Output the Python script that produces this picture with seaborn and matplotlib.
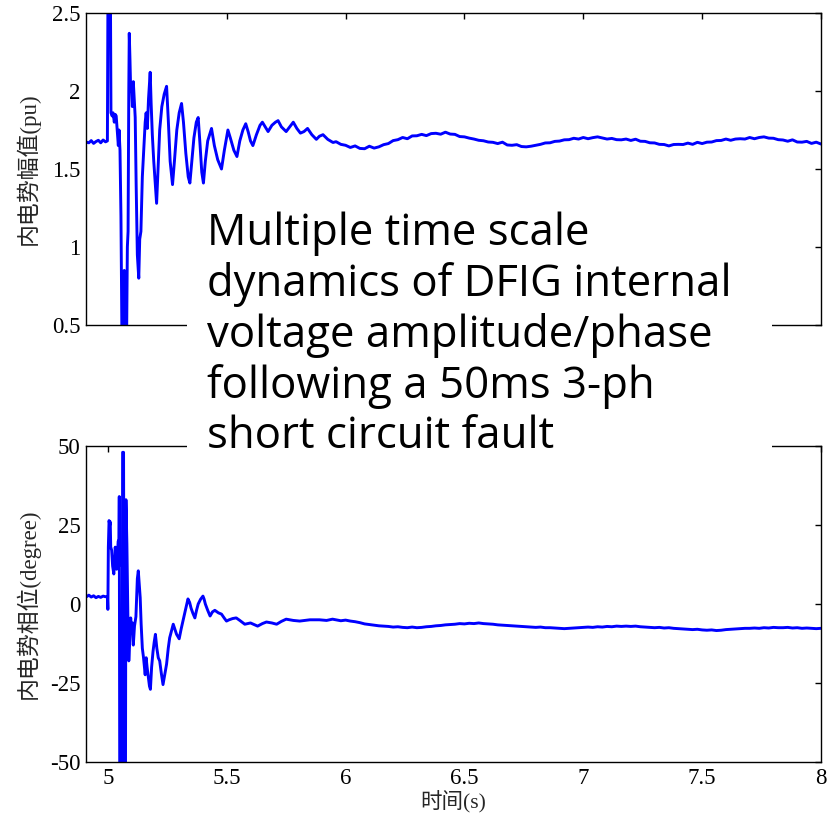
import numpy as np
import pandas as pd
import matplotlib
matplotlib.use("Agg")
import matplotlib.pyplot as plt
import seaborn as sns
from matplotlib.patches import Rectangle

# ---------------- data ----------------
amp_time = [
    4.900, 4.910, 4.920, 4.930, 4.940, 4.950, 4.960, 4.970, 4.980, 4.990, 4.998,
    5.001, 5.010, 5.013, 5.018, 5.022, 5.027, 5.031, 5.035, 5.040, 5.044, 5.047,
    5.051, 5.055, 5.059, 5.066, 5.069, 5.072, 5.075, 5.079, 5.082, 5.085, 5.088,
    5.090, 5.093, 5.096, 5.099, 5.103, 5.107, 5.111, 5.115, 5.119, 5.124, 5.130,
    5.134, 5.139, 5.145, 5.151, 5.157, 5.161, 5.166, 5.171, 5.178, 5.182, 5.187,
    5.193, 5.199, 5.205, 5.211, 5.218, 5.227, 5.237, 5.247, 5.254, 5.262, 5.272,
    5.280, 5.290, 5.300, 5.310, 5.318, 5.328, 5.338, 5.345, 5.353, 5.362, 5.372,
    5.380, 5.388, 5.395, 5.402, 5.410, 5.420, 5.436, 5.448, 5.462, 5.478, 5.490,
    5.505, 5.515, 5.530, 5.543, 5.555, 5.568, 5.580, 5.590, 5.600, 5.610, 5.625,
    5.640, 5.650, 5.662, 5.674, 5.690, 5.705, 5.716, 5.730, 5.750, 5.765, 5.780,
    5.795, 5.810, 5.825, 5.840, 5.858, 5.877, 5.890, 5.905, 5.925, 5.947,
    5.96, 5.98, 6.00, 6.02, 6.04, 6.06, 6.08, 6.10, 6.12, 6.14, 6.16, 6.18, 6.20,
    6.22, 6.24, 6.26, 6.28, 6.30, 6.32, 6.34, 6.36, 6.38, 6.40, 6.42, 6.44, 6.46,
    6.48, 6.50, 6.52, 6.54, 6.56, 6.58, 6.60, 6.62, 6.64, 6.66, 6.68, 6.70, 6.72,
    6.74, 6.76, 6.78, 6.80, 6.82, 6.84, 6.86, 6.88, 6.90, 6.92, 6.94, 6.96, 6.98,
    7.00, 7.02, 7.04, 7.06, 7.08, 7.10, 7.12, 7.14, 7.16, 7.18, 7.20, 7.22, 7.24,
    7.26, 7.28, 7.30, 7.32, 7.34, 7.36, 7.38, 7.40, 7.42, 7.44, 7.46, 7.48, 7.50,
    7.52, 7.54, 7.56, 7.58, 7.60, 7.62, 7.64, 7.66, 7.68, 7.70, 7.72, 7.74, 7.76,
    7.78, 7.80, 7.82, 7.84, 7.86, 7.88, 7.90, 7.92, 7.94, 7.96, 7.98, 8.00,
]
amp_value = [
    1.680, 1.672, 1.668, 1.682, 1.664, 1.676, 1.684, 1.668, 1.686, 1.674, 1.680,
    2.900, 2.900, 1.860, 1.840, 1.860, 1.800, 1.850, 1.840, 1.730, 1.650, 1.750,
    1.620, 1.200, 0.450, 0.450, 0.850, 0.750, 0.400, 0.450, 1.000, 1.100, 2.000,
    2.370, 2.200, 2.000, 2.040, 1.900, 2.060, 1.950, 1.830, 1.400, 0.950, 0.800,
    1.050, 1.100, 1.450, 1.620, 1.800, 1.860, 1.760, 1.950, 2.120, 1.920, 1.720,
    1.550, 1.420, 1.280, 1.500, 1.750, 1.900, 1.980, 2.030, 1.820, 1.550, 1.400,
    1.550, 1.750, 1.860, 1.920, 1.800, 1.600, 1.450, 1.410, 1.550, 1.700, 1.800,
    1.830, 1.650, 1.480, 1.410, 1.550, 1.680, 1.760, 1.650, 1.560, 1.500, 1.620,
    1.750, 1.700, 1.620, 1.580, 1.680, 1.750, 1.790, 1.740, 1.680, 1.650, 1.720,
    1.780, 1.800, 1.770, 1.740, 1.780, 1.800, 1.810, 1.770, 1.740, 1.770, 1.800,
    1.760, 1.730, 1.740, 1.760, 1.720, 1.690, 1.710, 1.720, 1.690, 1.670,
    1.675, 1.658, 1.652, 1.638, 1.648, 1.632, 1.630, 1.646, 1.634, 1.642, 1.656,
    1.663, 1.682, 1.688, 1.702, 1.694, 1.712, 1.713, 1.722, 1.714, 1.727, 1.729,
    1.723, 1.736, 1.724, 1.722, 1.708, 1.706, 1.698, 1.692, 1.684, 1.681, 1.673,
    1.671, 1.663, 1.672, 1.654, 1.652, 1.656, 1.644, 1.642, 1.646, 1.652, 1.658,
    1.667, 1.668, 1.677, 1.679, 1.687, 1.688, 1.697, 1.692, 1.702, 1.694, 1.701,
    1.706, 1.699, 1.692, 1.696, 1.688, 1.687, 1.692, 1.683, 1.691, 1.678, 1.677,
    1.668, 1.667, 1.658, 1.657, 1.648, 1.657, 1.658, 1.657, 1.666, 1.658, 1.671,
    1.663, 1.672, 1.673, 1.682, 1.683, 1.692, 1.684, 1.692, 1.694, 1.692, 1.702,
    1.694, 1.702, 1.706, 1.698, 1.697, 1.688, 1.686, 1.678, 1.687, 1.673, 1.672,
    1.677, 1.664, 1.672, 1.660,
]

ang_time = [
    4.900, 4.910, 4.920, 4.930, 4.940, 4.950, 4.960, 4.970, 4.980, 4.990, 4.998,
    5.000, 5.002, 5.005, 5.008, 5.010, 5.012, 5.016, 5.020, 5.025, 5.029, 5.031,
    5.034, 5.037, 5.041, 5.044, 5.046, 5.048, 5.050, 5.060, 5.062, 5.066, 5.069,
    5.074, 5.076, 5.080, 5.084, 5.088, 5.092, 5.096, 5.100, 5.104, 5.107, 5.112,
    5.118, 5.124, 5.128, 5.132, 5.136, 5.140, 5.145, 5.150, 5.154, 5.157, 5.161,
    5.165, 5.170, 5.175, 5.179, 5.184, 5.190, 5.195, 5.200, 5.206, 5.212, 5.218,
    5.225, 5.232, 5.240, 5.247, 5.254, 5.260, 5.266, 5.275, 5.282, 5.289, 5.300,
    5.308, 5.316, 5.326, 5.337, 5.344, 5.350, 5.358, 5.366, 5.373, 5.380, 5.390,
    5.400, 5.405, 5.410, 5.420, 5.430, 5.440, 5.450, 5.465, 5.478, 5.490, 5.499,
    5.510, 5.525, 5.540, 5.555, 5.576, 5.600, 5.630, 5.650, 5.667, 5.690, 5.710,
    5.730, 5.750, 5.780, 5.807, 5.850, 5.890, 5.920, 5.945,
    5.96, 5.98, 6.00, 6.02, 6.04, 6.06, 6.08, 6.10, 6.12, 6.14, 6.16, 6.18, 6.20,
    6.22, 6.24, 6.26, 6.28, 6.30, 6.32, 6.34, 6.36, 6.38, 6.40, 6.42, 6.44, 6.46,
    6.48, 6.50, 6.52, 6.54, 6.56, 6.58, 6.60, 6.62, 6.64, 6.66, 6.68, 6.70, 6.72,
    6.74, 6.76, 6.78, 6.80, 6.82, 6.84, 6.86, 6.88, 6.90, 6.92, 6.94, 6.96, 6.98,
    7.00, 7.02, 7.04, 7.06, 7.08, 7.10, 7.12, 7.14, 7.16, 7.18, 7.20, 7.22, 7.24,
    7.26, 7.28, 7.30, 7.32, 7.34, 7.36, 7.38, 7.40, 7.42, 7.44, 7.46, 7.48, 7.50,
    7.52, 7.54, 7.56, 7.58, 7.60, 7.62, 7.64, 7.66, 7.68, 7.70, 7.72, 7.74, 7.76,
    7.78, 7.80, 7.82, 7.84, 7.86, 7.88, 7.90, 7.92, 7.94, 7.96, 7.98, 8.00,
]
ang_value = [
    2.5, 2.3, 2.8, 2.2, 2.6, 2.0, 2.4, 2.1, 2.5, 2.3, 2.4,
    -1.7, 18.0, 26.4, 25.0, 26.0, 18.0, 17.0, 12.0, 9.5, 14.0, 18.0,
    15.0, 11.0, 17.0, 20.0, 12.0, 34.0, -60.0, -60.0, 48.0, 48.0, -60.0,
    -60.0, 33.0, 19.0, -3.0, -18.0, -12.0, -4.4, -9.0, -6.0, -13.0, -7.0,
    -4.0, 8.0, 10.5, 6.0, 2.0, -6.4, -14.0, -17.0, -20.0, -22.4, -17.0,
    -20.0, -23.0, -26.0, -27.0, -20.0, -15.0, -12.0, -9.6, -14.0, -17.0, -18.0,
    -22.0, -25.5, -22.0, -19.0, -14.0, -10.7, -9.0, -6.4, -8.0, -9.6, -11.0,
    -8.0, -5.4, -2.0, 1.6, 0.5, -1.3, -3.0, -4.4, -2.0, 0.0, 1.5,
    2.5, 1.5, 0.0, -2.0, -3.8, -2.5, -2.0, -2.8, -3.2, -4.5, -5.4,
    -5.0, -4.6, -4.4, -5.2, -6.4, -6.0, -7.0, -6.2, -5.7, -6.0, -6.4,
    -5.5, -4.8, -5.2, -5.4, -5.0, -5.0, -5.2, -4.8,
    -5.0, -5.3, -5.1, -5.4, -5.6, -5.9, -6.3, -6.5, -6.7, -6.9, -7.0, -7.1, -7.3,
    -7.2, -7.4, -7.5, -7.3, -7.5, -7.4, -7.2, -7.1, -6.9, -6.8, -6.6, -6.5, -6.4,
    -6.2, -6.3, -6.1, -6.2, -6.0, -6.2, -6.3, -6.4, -6.6, -6.7, -6.8, -6.9, -7.0,
    -7.1, -7.2, -7.3, -7.4, -7.3, -7.5, -7.5, -7.6, -7.7, -7.8, -7.7, -7.6, -7.5,
    -7.4, -7.3, -7.4, -7.2, -7.3, -7.1, -7.2, -7.0, -7.1, -7.0, -7.1, -7.0, -7.2,
    -7.3, -7.4, -7.5, -7.4, -7.6, -7.5, -7.7, -7.8, -7.9, -8.0, -8.1, -8.0, -8.2,
    -8.3, -8.2, -8.4, -8.3, -8.1, -8.0, -7.9, -7.8, -7.7, -7.7, -7.6, -7.7, -7.5,
    -7.6, -7.4, -7.5, -7.5, -7.4, -7.6, -7.5, -7.7, -7.6, -7.7, -7.8, -7.7,
]

x_ticks = [5, 5.5, 6, 6.5, 7, 7.5, 8]
x_tick_labels = ["5", "5.5", "6", "6.5", "7", "7.5", "8"]
amp_ticks = [0.5, 1, 1.5, 2, 2.5]
amp_tick_labels = ["0.5", "1", "1.5", "2", "2.5"]
ang_ticks = [-50, -25, 0, 25, 50]
ang_tick_labels = ["-50", "-25", "0", "25", "50"]
amp_label = "内电势幅值(pu)"
ang_label = "内电势相位(degree)"
x_label = "时间(s)"
note_lines = [
    "Multiple time scale",
    "dynamics of DFIG internal",
    "voltage amplitude/phase",
    "following a 50ms 3-ph",
    "short circuit fault",
]

# ---------------- style ----------------
sns.set_theme(style="white")
plt.rcParams["font.family"] = ["Liberation Serif", "Noto Sans CJK SC", "DejaVu Sans"]
plt.rcParams["axes.edgecolor"] = "black"
plt.rcParams["axes.linewidth"] = 1.0

amp_df = pd.DataFrame({"t": amp_time, "v": amp_value})
ang_df = pd.DataFrame({"t": ang_time, "v": ang_value})

W, H = 832, 818
fig = plt.figure(figsize=(W / 100, H / 100), dpi=100)
fig.patch.set_facecolor("white")


def fbox(l, t, r, b):
    return [l / W, 1 - b / H, (r - l) / W, (b - t) / H]


ax1 = fig.add_axes(fbox(86, 13, 821, 325))
ax2 = fig.add_axes(fbox(86, 446, 821, 762))

line_kw = dict(color="#0000ff", linewidth=2.1, estimator=None, sort=False, legend=False)
sns.lineplot(data=amp_df, x="t", y="v", ax=ax1, **line_kw)
sns.lineplot(data=ang_df, x="t", y="v", ax=ax2, **line_kw)

for ax in (ax1, ax2):
    ax.set_xlim(4.908, 8.0)
    ax.set_xticks(x_ticks)
    ax.tick_params(direction="in", length=4, width=1, top=True, right=True,
                   labelsize=16.5, pad=4, colors="black")
    for s in ax.spines.values():
        s.set_color("black")
        s.set_linewidth(1.0)
    ax.set_facecolor("white")

ax1.set_ylim(0.5, 2.5)
ax1.set_yticks(amp_ticks)
ax1.set_yticklabels(amp_tick_labels)
ax1.set_xticklabels([])
ax1.set_xlabel("")
ax1.set_ylabel(amp_label, fontsize=16.5)
ax1.yaxis.set_label_coords(-0.063, 0.5)

ax2.set_ylim(-50, 50)
ax2.set_yticks(ang_ticks)
ax2.set_yticklabels(ang_tick_labels)
ax2.set_xticklabels(x_tick_labels)
ax2.set_ylabel(ang_label, fontsize=16.5)
ax2.yaxis.set_label_coords(-0.063, 0.5)
ax2.set_xlabel(x_label, fontsize=15.5, labelpad=2)

# white annotation box covering the gap
fig.add_artist(Rectangle((187 / W, 1 - 458 / H), (772 - 187) / W, (458 - 195) / H,
                         transform=fig.transFigure, facecolor="white",
                         edgecolor="none", zorder=10))
fig.text(207 / W, 1 - 211 / H, "\n".join(note_lines), ha="left", va="top",
         fontsize=31.5, family=["Open Sans", "DejaVu Sans"], color="black",
         linespacing=1.18, zorder=11)

fig.savefig("out.png", dpi=100, facecolor="white")
